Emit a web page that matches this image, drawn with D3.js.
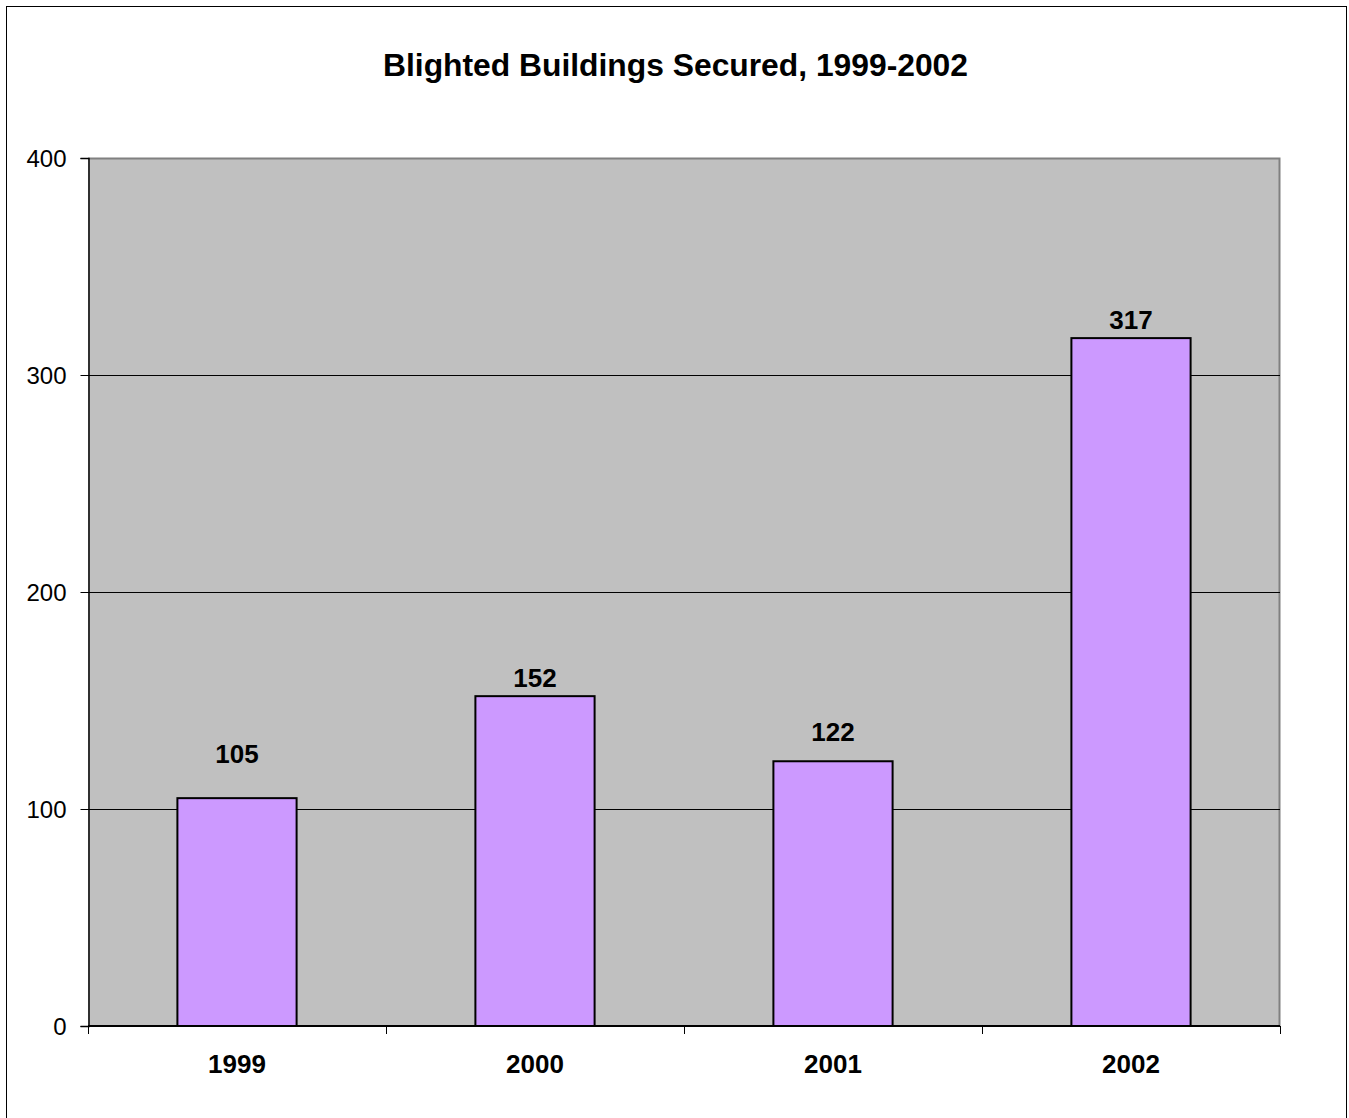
<!DOCTYPE html>
<html>
<head>
<meta charset="utf-8">
<script src="https://cdn.jsdelivr.net/npm/d3@7"></script>
<style>
  html, body { margin: 0; padding: 0; background: #fff; }
  svg { display: block; }
  text { font-family: Arial, "Liberation Sans", sans-serif; }
</style>
</head>
<body>
<svg id="chart" width="1349" height="1118"></svg>
<script>
const chartTitle = "Blighted Buildings Secured, 1999-2002";
const categories = ["1999", "2000", "2001", "2002"];
const values = [105, 152, 122, 317];
const yTicks = [0, 100, 200, 300, 400];

const svg = d3.select("#chart");
const m = { left: 88, right: 1280, top: 158, bottom: 1026 };

// outer border
svg.append("rect")
  .attr("x", 6.5).attr("y", 6.5)
  .attr("width", 1340).attr("height", 1130)
  .attr("fill", "#fff").attr("stroke", "#000").attr("stroke-width", 1);

// title
svg.append("text")
  .attr("x", 675.5).attr("y", 76)
  .attr("text-anchor", "middle")
  .attr("font-size", 31).attr("font-weight", "bold")
  .attr("textLength", 585).attr("lengthAdjust", "spacingAndGlyphs")
  .text(chartTitle);

const x = d3.scaleBand().domain(categories)
  .range([m.left, m.right]).paddingInner(0.6).paddingOuter(0.3);
const y = d3.scaleLinear().domain([0, 400]).range([m.bottom, m.top]);

// plot background
svg.append("rect")
  .attr("x", m.left).attr("y", m.top)
  .attr("width", m.right - m.left).attr("height", m.bottom - m.top)
  .attr("fill", "#C0C0C0");

// plot border (top/right gray)
svg.append("path")
  .attr("d", `M${m.left},${m.top + 0.5}H${m.right - 0.5}V${m.bottom}`)
  .attr("fill", "none").attr("stroke", "#808080").attr("stroke-width", 2);

// gridlines
svg.append("g").selectAll("line")
  .data(yTicks.filter(t => t > 0 && t < 400))
  .join("line")
  .attr("x1", m.left).attr("x2", m.right)
  .attr("y1", d => Math.round(y(d)) + 0.5).attr("y2", d => Math.round(y(d)) + 0.5)
  .attr("stroke", "#000").attr("stroke-width", 1);

// y axis
const yAxis = d3.axisLeft(y).tickValues(yTicks).tickSize(8).tickPadding(14)
  .tickFormat(d3.format("d"));
const gy = svg.append("g").attr("transform", `translate(${m.left + 0.5},0)`).call(yAxis);
gy.select(".domain").attr("stroke", "#000").attr("stroke-width", 1.5);
gy.selectAll(".tick line").attr("stroke", "#000");
gy.selectAll(".tick text")
  .attr("font-size", 24).attr("font-family", "Arial, 'Liberation Sans', sans-serif")
  .attr("fill", "#000").attr("dy", "0.36em");

// bars
const labelGap = [35, 9, 20, 9];
svg.append("g").selectAll("rect")
  .data(values)
  .join("rect")
  .attr("x", (d, i) => x(categories[i]))
  .attr("y", d => y(d))
  .attr("width", x.bandwidth())
  .attr("height", d => y(0) - y(d))
  .attr("fill", "#CC99FF")
  .attr("stroke", "#000").attr("stroke-width", 2);

// bottom axis line and ticks at category boundaries
svg.append("line")
  .attr("x1", m.left).attr("x2", m.right)
  .attr("y1", m.bottom).attr("y2", m.bottom)
  .attr("stroke", "#000").attr("stroke-width", 2);
const step = x.step();
const boundaries = d3.range(categories.length + 1).map(i => m.left + i * step);
svg.append("g").selectAll("line")
  .data(boundaries)
  .join("line")
  .attr("x1", d => Math.round(d) + 0.5).attr("x2", d => Math.round(d) + 0.5)
  .attr("y1", m.bottom).attr("y2", m.bottom + 8)
  .attr("stroke", "#000").attr("stroke-width", 1);

// category labels
svg.append("g").selectAll("text")
  .data(categories)
  .join("text")
  .attr("x", d => x(d) + x.bandwidth() / 2)
  .attr("y", 1073)
  .attr("text-anchor", "middle")
  .attr("font-size", 26).attr("font-weight", "bold")
  .text(d => d);

// data labels
svg.append("g").selectAll("text")
  .data(values)
  .join("text")
  .attr("x", (d, i) => x(categories[i]) + x.bandwidth() / 2)
  .attr("y", (d, i) => y(d) - labelGap[i])
  .attr("text-anchor", "middle")
  .attr("font-size", 26).attr("font-weight", "bold")
  .text(d => d);
</script>
</body>
</html>
